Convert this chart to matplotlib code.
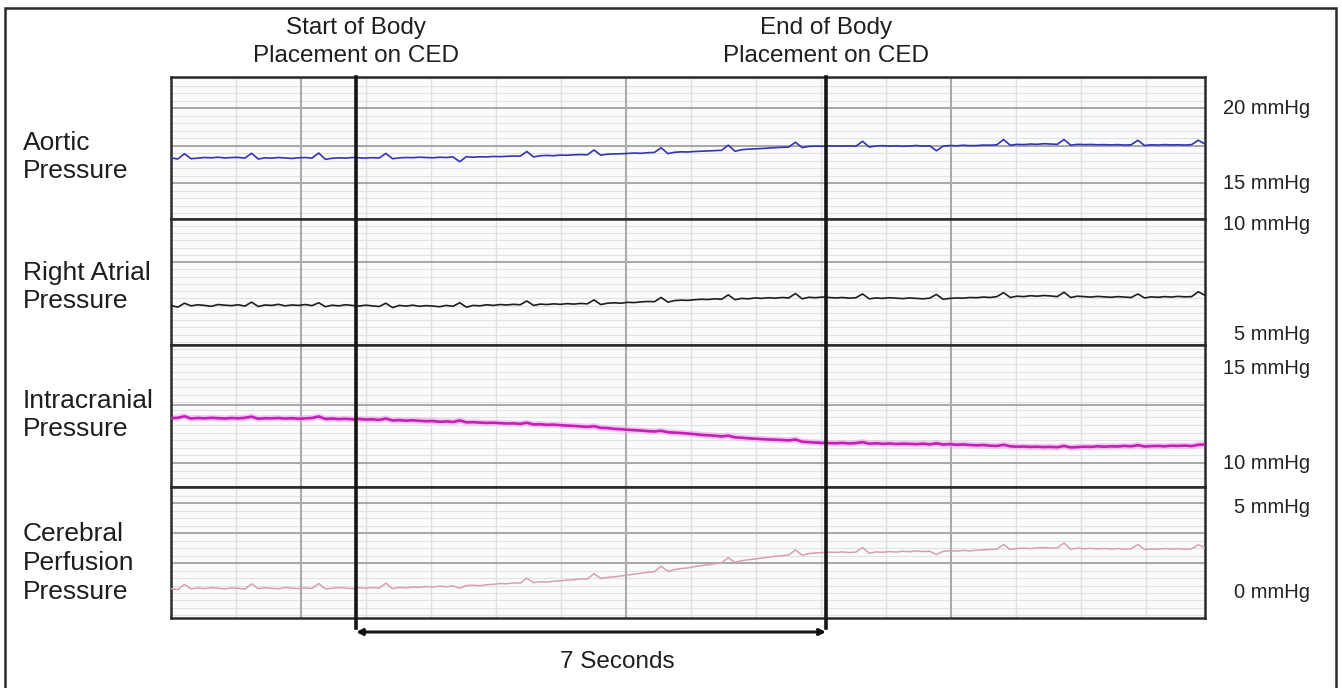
import numpy as np
import matplotlib
matplotlib.use("Agg")
import matplotlib.pyplot as plt
from matplotlib.lines import Line2D
from matplotlib.patches import Rectangle
import matplotlib.transforms as mtransforms

plt.rcParams['font.family'] = ['Liberation Sans', 'DejaVu Sans']

# ---------------- data ----------------
sample_step_s = 0.1          # seconds between samples
duration_s = 15.4
event_times_s = [2.755, 9.755]
event_labels = ["Start of Body\nPlacement on CED", "End of Body\nPlacement on CED"]
interval_label = "7 Seconds"

panel_names = ["Aortic\nPressure", "Right Atrial\nPressure",
               "Intracranial\nPressure", "Cerebral\nPerfusion\nPressure"]
panel_scale_labels = [[(20, "20 mmHg"), (15, "15 mmHg")],
                      [(10, "10 mmHg"), (5, "5 mmHg")],
                      [(15, "15 mmHg"), (10, "10 mmHg")],
                      [(5, "5 mmHg"), (0, "0 mmHg")]]

aortic = [
    16.68, 16.60, 16.95, 16.62, 16.66, 16.70, 16.68, 16.72, 16.67, 16.70,
    16.71, 16.66, 16.98, 16.60, 16.68, 16.66, 16.70, 16.67, 16.64, 16.68,
    16.70, 16.66, 17.00, 16.58, 16.65, 16.68, 16.66, 16.70, 16.68, 16.66,
    16.69, 16.67, 16.97, 16.62, 16.68, 16.70, 16.69, 16.72, 16.70, 16.68,
    16.72, 16.70, 16.74, 16.42, 16.76, 16.72, 16.75, 16.74, 16.77, 16.76,
    16.78, 16.80, 16.79, 17.10, 16.74, 16.82, 16.84, 16.82, 16.86, 16.85,
    16.88, 16.90, 16.88, 17.20, 16.86, 16.92, 16.94, 16.95, 16.97, 17.00,
    16.98, 17.02, 17.04, 17.35, 16.96, 17.05, 17.08, 17.07, 17.10, 17.12,
    17.14, 17.16, 17.18, 17.52, 17.12, 17.22, 17.26, 17.28, 17.30, 17.33,
    17.36, 17.38, 17.40, 17.72, 17.36, 17.44, 17.46, 17.45, 17.48, 17.47,
    17.46, 17.48, 17.45, 17.78, 17.40, 17.47, 17.49, 17.46, 17.48, 17.45,
    17.47, 17.50, 17.46, 17.48, 17.15, 17.46, 17.50, 17.48, 17.52, 17.49,
    17.50, 17.53, 17.52, 17.55, 17.90, 17.52, 17.58, 17.56, 17.60, 17.58,
    17.62, 17.60, 17.58, 17.90, 17.52, 17.58, 17.56, 17.57, 17.55, 17.56,
    17.54, 17.56, 17.53, 17.55, 17.85, 17.50, 17.55, 17.53, 17.56, 17.54,
    17.55, 17.53, 17.56, 17.85, 17.60]

right_atrial = [
    6.30, 6.22, 6.40, 6.28, 6.33, 6.30, 6.26, 6.34, 6.31, 6.29,
    6.33, 6.27, 6.45, 6.25, 6.32, 6.30, 6.35, 6.28, 6.32, 6.30,
    6.34, 6.29, 6.42, 6.24, 6.31, 6.28, 6.33, 6.30, 6.27, 6.31,
    6.28, 6.25, 6.40, 6.20, 6.30, 6.27, 6.31, 6.26, 6.29, 6.27,
    6.24, 6.30, 6.26, 6.42, 6.22, 6.30, 6.28, 6.33, 6.30, 6.34,
    6.32, 6.35, 6.33, 6.50, 6.30, 6.36, 6.34, 6.37, 6.35, 6.38,
    6.36, 6.39, 6.37, 6.55, 6.34, 6.40, 6.42, 6.40, 6.44, 6.43,
    6.46, 6.48, 6.47, 6.66, 6.45, 6.52, 6.54, 6.53, 6.56, 6.58,
    6.57, 6.60, 6.58, 6.78, 6.56, 6.62, 6.60, 6.64, 6.62, 6.65,
    6.63, 6.66, 6.64, 6.84, 6.60, 6.67, 6.65, 6.68, 6.66, 6.64,
    6.66, 6.63, 6.65, 6.82, 6.60, 6.64, 6.62, 6.65, 6.63, 6.61,
    6.64, 6.62, 6.60, 6.63, 6.80, 6.58, 6.62, 6.64, 6.63, 6.66,
    6.65, 6.68, 6.66, 6.70, 6.88, 6.66, 6.72, 6.70, 6.74, 6.72,
    6.75, 6.73, 6.70, 6.90, 6.66, 6.72, 6.70, 6.68, 6.71, 6.69,
    6.67, 6.70, 6.68, 6.66, 6.82, 6.64, 6.69, 6.67, 6.70, 6.68,
    6.71, 6.69, 6.70, 6.92, 6.76]

intracranial = [
    12.36, 12.38, 12.46, 12.34, 12.37, 12.35, 12.38, 12.36, 12.34, 12.37,
    12.35, 12.38, 12.44, 12.33, 12.36, 12.35, 12.37, 12.34, 12.36, 12.33,
    12.35, 12.37, 12.45, 12.32, 12.34, 12.31, 12.33, 12.30, 12.32, 12.29,
    12.30, 12.27, 12.34, 12.24, 12.26, 12.23, 12.25, 12.22, 12.20, 12.21,
    12.17, 12.19, 12.16, 12.24, 12.14, 12.15, 12.13, 12.11, 12.12, 12.10,
    12.08, 12.09, 12.06, 12.12, 12.03, 12.04, 12.01, 12.02, 11.99, 11.97,
    11.95, 11.93, 11.90, 11.94, 11.85, 11.84, 11.80, 11.78, 11.75, 11.73,
    11.71, 11.68, 11.66, 11.70, 11.62, 11.60, 11.58, 11.55, 11.52, 11.48,
    11.46, 11.44, 11.40, 11.44, 11.35, 11.33, 11.30, 11.28, 11.26, 11.24,
    11.23, 11.21, 11.19, 11.24, 11.12, 11.10, 11.08, 11.06, 11.05, 11.04,
    11.06, 11.03, 11.05, 11.10, 11.02, 11.04, 11.01, 11.03, 11.00, 11.02,
    11.01, 10.99, 11.02, 10.98, 11.04, 10.97, 11.00, 10.96, 10.98, 10.95,
    10.93, 10.95, 10.91, 10.90, 10.96, 10.88, 10.86, 10.87, 10.85, 10.86,
    10.84, 10.85, 10.83, 10.90, 10.82, 10.84, 10.86, 10.85, 10.88, 10.86,
    10.88, 10.87, 10.90, 10.88, 10.94, 10.87, 10.89, 10.90, 10.88, 10.91,
    10.90, 10.92, 10.89, 10.96, 10.98]

cerebral_perfusion = [
    0.20, 0.14, 0.45, 0.18, 0.24, 0.20, 0.26, 0.22, 0.18, 0.24,
    0.22, 0.17, 0.48, 0.20, 0.25, 0.22, 0.19, 0.26, 0.23, 0.20,
    0.24, 0.21, 0.50, 0.18, 0.22, 0.26, 0.23, 0.20, 0.25, 0.22,
    0.26, 0.23, 0.52, 0.20, 0.27, 0.24, 0.30, 0.27, 0.32, 0.29,
    0.34, 0.31, 0.36, 0.22, 0.38, 0.40, 0.37, 0.43, 0.45, 0.50,
    0.48, 0.54, 0.52, 0.82, 0.55, 0.60, 0.58, 0.64, 0.66, 0.70,
    0.72, 0.78, 0.76, 1.08, 0.80, 0.86, 0.90, 0.94, 1.00, 1.05,
    1.10, 1.16, 1.20, 1.52, 1.22, 1.32, 1.38, 1.42, 1.50, 1.55,
    1.60, 1.66, 1.72, 2.02, 1.74, 1.84, 1.90, 1.94, 2.00, 2.05,
    2.10, 2.14, 2.18, 2.48, 2.16, 2.26, 2.30, 2.32, 2.35, 2.33,
    2.36, 2.32, 2.35, 2.62, 2.28, 2.36, 2.34, 2.38, 2.35, 2.40,
    2.37, 2.42, 2.38, 2.40, 2.20, 2.39, 2.43, 2.41, 2.45, 2.42,
    2.46, 2.48, 2.50, 2.52, 2.80, 2.50, 2.56, 2.58, 2.55, 2.60,
    2.62, 2.58, 2.60, 2.88, 2.52, 2.58, 2.55, 2.57, 2.54, 2.56,
    2.53, 2.56, 2.52, 2.55, 2.80, 2.50, 2.54, 2.52, 2.56, 2.53,
    2.55, 2.52, 2.54, 2.78, 2.60]

series = [aortic, right_atrial, intracranial, cerebral_perfusion]

# ---------------- styling / layout ----------------
W_PX, H_PX = 1342, 688
def fx(p): return p / W_PX
def fy(p): return 1 - p / H_PX

colors = ['#3434b4', '#1e1e1e', '#c41fb8', '#d7a0ae']
widths = [1.2, 1.2, 1.9, 1.1]
panel_px = [(77, 219), (219, 345), (345, 487), (487, 618)]
ylims = [(12.6, 22.07), (4.5, 10.23), (8.74, 16.21), (-1.53, 6.18)]
minor_steps = [0.5, 0.33, 0.4, 0.44]
majors = [[15, 17.5, 20], [8.27], [10.0, 13.05], [1.7, 3.47, 5.24]]
grid_step_s = 0.968
major_grid_idx = (2, 7, 12)

fig = plt.figure(figsize=(W_PX / 100, H_PX / 100), dpi=100)
fig.patch.set_facecolor('white')

L, R = fx(171), fx(1205)
axes = []
for i, (top, bot) in enumerate(panel_px):
    ax = fig.add_axes([L, fy(bot), R - L, fy(top) - fy(bot)])
    ax.set_facecolor('#fafbfc')
    ax.set_xlim(0, duration_s)
    ax.set_ylim(*ylims[i])
    ax.set_xticks([]); ax.set_yticks([])
    lo, hi = ylims[i]
    base = majors[i][0]
    k0 = int(np.floor((lo - base) / minor_steps[i]))
    k1 = int(np.ceil((hi - base) / minor_steps[i]))
    for k in range(k0, k1 + 1):
        yv = base + k * minor_steps[i]
        if lo < yv < hi:
            ax.axhline(yv, color='#e2e2e2', lw=0.8, zorder=0)
    for yv in majors[i]:
        ax.axhline(yv, color='#a2a2a2', lw=1.3, zorder=0.5)
    for k in range(1, 16):
        xv = k * grid_step_s
        if k in major_grid_idx:
            ax.axvline(xv, color='#ababab', lw=1.5, zorder=0.5)
        else:
            ax.axvline(xv, color='#e0e0e0', lw=1.0, zorder=0)
    for s in ax.spines.values():
        s.set_color('#2a2a2a'); s.set_linewidth(1.8)
    vals = np.array(series[i])
    t = np.arange(len(vals)) * sample_step_s
    if i == 2:
        ax.plot(t, vals, color='#f2a6ea', lw=4.5, alpha=0.6, zorder=2)
    ax.plot(t, vals, color=colors[i], lw=widths[i], zorder=3)
    tr = mtransforms.blended_transform_factory(fig.transFigure, ax.transData)
    for v, lab in panel_scale_labels[i]:
        ax.text(fx(1310), v, lab, transform=tr, ha='right', va='center',
                fontsize=14.5, color='#222222', clip_on=False)
    axes.append(ax)

# left labels
name_centers = [157, 287, 415, 563]
for name, cy in zip(panel_names, name_centers):
    fig.text(fx(23), fy(cy), name, ha='left', va='center', fontsize=19,
             color='#1e1e1e', linespacing=1.25)

# event lines spanning all panels + captions
trx = mtransforms.blended_transform_factory(axes[-1].transData, fig.transFigure)
for te, lab in zip(event_times_s, event_labels):
    fig.add_artist(Line2D([te, te], [fy(77), fy(628)], transform=trx,
                          color='#151515', lw=2.6, zorder=10))
    fig.text(te, fy(42), lab, transform=trx, ha='center', va='center',
             fontsize=17.5, color='#1e1e1e', linespacing=1.38)

# 7 seconds arrow
axes[-1].annotate('', xy=(event_times_s[1], fy(632)), xytext=(event_times_s[0], fy(632)),
                  xycoords=trx, textcoords=trx, annotation_clip=False,
                  arrowprops=dict(arrowstyle='<|-|>', lw=2.2, color='#151515',
                                  mutation_scale=9, shrinkA=0, shrinkB=0))
fig.text(fx(617), fy(662), interval_label, ha='center', va='center',
         fontsize=17.5, color='#1e1e1e')

# outer frame
fig.add_artist(Rectangle((fx(5), -0.02), fx(1336) - fx(5), fy(8) + 0.02,
                         transform=fig.transFigure, fill=False,
                         edgecolor='#2a2a2a', lw=1.8))

fig.savefig('out.png', dpi=100, facecolor='white')
